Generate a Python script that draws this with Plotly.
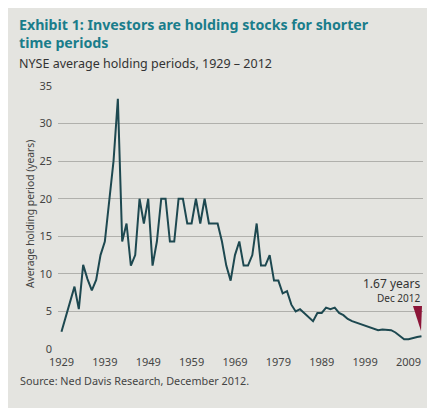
import plotly.graph_objects as go

years = list(range(1929, 2013))
holding = [
    2.3, 4.3, 6.3, 8.3, 5.3, 11.2, 9.3, 7.8, 9.2, 12.5,   # 1929-1938
    14.3, 20.0, 25.0, 33.3, 14.3, 16.7, 11.1, 12.5, 20.0, 16.7,  # 1939-1948
    20.0, 11.1, 14.3, 20.0, 20.0, 14.3, 14.3, 20.0, 20.0, 16.7,  # 1949-1958
    16.7, 20.0, 16.7, 20.0, 16.7, 16.7, 16.7, 14.3, 11.1, 9.1,   # 1959-1968
    12.5, 14.3, 11.1, 11.1, 12.5, 16.7, 11.1, 11.1, 12.5, 9.1,   # 1969-1978
    9.1, 7.4, 7.7, 5.9, 5.0, 5.3, 4.8, 4.2, 3.7, 4.8,            # 1979-1988
    4.8, 5.5, 5.3, 5.5, 4.8, 4.5, 4.0, 3.7, 3.5, 3.3,            # 1989-1998
    3.1, 2.8, 2.6, 2.5, 2.6, 2.6, 2.5, 2.2, 1.7, 1.3,            # 1999-2008
    1.3, 1.5, 1.6, 1.7                                           # 2009-2012
]
x_ticks = list(range(1929, 2010, 10))
y_ticks = list(range(0, 36, 5))

OFF = 8  # page body margin
W, H = 435 - OFF, 413 - OFF
L, R = 58 - OFF, 12
T, B = 86 - OFF, H - (349 - OFF)
pw, ph = W - L - R, H - T - B

def px(xw):
    return (xw - OFF - L) / pw

def py(yw):
    return (H - B - (yw - OFF)) / ph

font = "Noto Sans"
fig = go.Figure()
fig.add_trace(go.Scatter(x=years, y=holding, mode="lines",
                         line=dict(color="#1d4850", width=2), hoverinfo="skip"))

# white frame around the gray panel
white = dict(fillcolor="white", line=dict(width=0), xref="paper", yref="paper", layer="below")
fig.add_shape(type="rect", x0=px(432), x1=px(440), y0=py(420), y1=py(0), **white)
fig.add_shape(type="rect", x0=px(0), x1=px(440), y0=py(420), y1=py(408), **white)

# marker triangle at Dec 2012
fig.add_shape(type="path", xref="paper", yref="paper",
              path=f"M {px(413)} {py(306)} L {px(422)} {py(306)} L {px(421)} {py(331)} Z",
              fillcolor="#8c1538", line=dict(width=0))

def text(xw, yw, s, size, color, xanchor="left", yanchor="middle", angle=0):
    fig.add_annotation(xref="paper", yref="paper", x=px(xw), y=py(yw),
                       xanchor=xanchor, yanchor=yanchor, text=s, showarrow=False,
                       textangle=angle, align="left", borderpad=0,
                       font=dict(family=font, size=size, color=color))

text(18, 14, "<b>Exhibit 1: Investors are holding stocks for shorter<br>time periods</b>",
     14.2, "#1a7d8b", yanchor="top")
text(18, 63.5, "NYSE average holding periods, 1929 – 2012", 12.5, "#333333")
text(19, 380, "Source: Ned Davis Research, December 2012.", 10.8, "#444444")
text(422, 283, "1.67 years", 12, "#333333", xanchor="right")
text(422, 298, "Dec 2012", 10, "#333333", xanchor="right")
text(30, 214, "Average holding period (years)", 10.3, "#444444", xanchor="center", angle=-90)

fig.update_layout(
    width=W, height=H,
    margin=dict(l=L, r=R, t=T, b=B),
    paper_bgcolor="#e4e4e0", plot_bgcolor="rgba(0,0,0,0)",
    showlegend=False,
    font=dict(family=font, color="#444444"),
)
fig.update_xaxes(range=[1928.2, 2012.35], tickvals=x_ticks, ticktext=[str(v) for v in x_ticks],
                 showgrid=False, zeroline=False, showline=False, ticks="", ticklabelstandoff=5,
                 tickfont=dict(size=11, color="#444444"), fixedrange=True)
fig.update_yaxes(range=[0, 35], tickvals=y_ticks, showgrid=True, gridcolor="#b0b0ac", gridwidth=1.3,
                 zeroline=False, showline=False, ticks="", ticklabelstandoff=5,
                 tickfont=dict(size=11, color="#444444"), fixedrange=True)

fig.write_html("out.html")
